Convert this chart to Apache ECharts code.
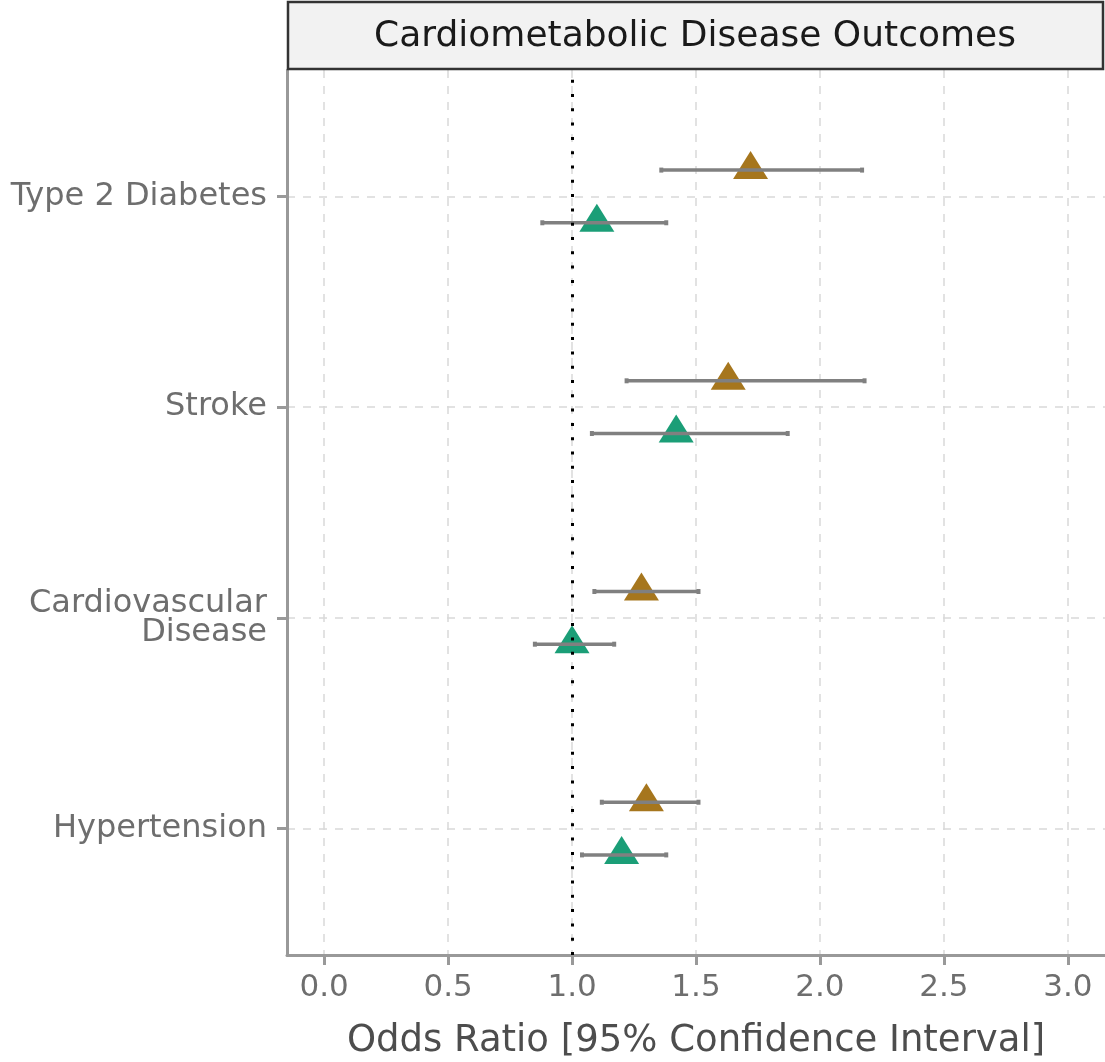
<!DOCTYPE html>
<html>
<head>
<meta charset="utf-8">
<script src="https://cdn.jsdelivr.net/npm/echarts@6/dist/echarts.min.js"></script>
<style>
html,body{margin:0;padding:0;background:#fff;}
#chart{width:1105px;height:1062px;}
</style>
</head>
<body>
<div id="chart"></div>
<script>
// Categories from bottom (y = 1) to top (y = 4)
const categories = ['Hypertension', 'Cardiovascular\nDisease', 'Stroke', 'Type 2 Diabetes'];
// Brown group (upper dodge)
const brownOR = [1.30, 1.28, 1.63, 1.72];
const brownLo = [1.12, 1.09, 1.22, 1.36];
const brownHi = [1.51, 1.51, 2.18, 2.17];
// Green group (lower dodge)
const greenOR = [1.20, 1.00, 1.42, 1.10];
const greenLo = [1.04, 0.85, 1.08, 0.88];
const greenHi = [1.38, 1.17, 1.87, 1.38];
// Axis ticks
const xTicks = [0, 0.5, 1.0, 1.5, 2.0, 2.5, 3.0];
const yTicks = [1, 2, 3, 4];
const refLine = 1.0;
const stripTitle = 'Cardiometabolic Disease Outcomes';
const xTitle = 'Odds Ratio [95% Confidence Interval]';

const dodge = 0.125;
const brownColor = '#A6761D';
const greenColor = '#1B9E77';
const font = 'DejaVu Sans';

const brownPts = brownOR.map((v, i) => [v, yTicks[i] + dodge]);
const greenPts = greenOR.map((v, i) => [v, yTicks[i] - dodge]);
const errData = [];
brownOR.forEach((v, i) => errData.push([brownLo[i], brownHi[i], yTicks[i] + dodge]));
greenOR.forEach((v, i) => errData.push([greenLo[i], greenHi[i], yTicks[i] - dodge]));

const chart = echarts.init(document.getElementById('chart'), null, {renderer: 'canvas'});

const option = {
  animation: false,
  backgroundColor: '#ffffff',
  grid: {left: 287, right: 0, top: 70, bottom: 107, containLabel: false, outerBoundsMode: 'none'},
  xAxis: {
    type: 'value', min: -0.15, max: 3.15,
    axisLine: {show: true, onZero: false, lineStyle: {color: '#999999', width: 3}},
    axisTick: {show: true, length: 10, customValues: xTicks, lineStyle: {color: '#999999', width: 3}},
    axisLabel: {customValues: xTicks, formatter: v => Number(v).toFixed(1), color: '#6E6E6E',
      fontFamily: font, fontSize: 31, margin: 17},
    splitLine: {show: true, lineStyle: {color: '#D9D9D9', type: [8, 8], width: 1.5}},
    name: xTitle, nameLocation: 'middle', nameGap: 68,
    nameTextStyle: {color: '#4D4D4D', fontFamily: font, fontSize: 37}
  },
  yAxis: {
    type: 'value', min: 0.4, max: 4.6,
    axisLine: {show: true, onZero: false, lineStyle: {color: '#999999', width: 3}},
    axisTick: {show: true, length: 10, customValues: yTicks, lineStyle: {color: '#999999', width: 3}},
    axisLabel: {customValues: yTicks, formatter: v => categories[Math.round(v) - 1] || '',
      color: '#6E6E6E', fontFamily: font, fontSize: 32, margin: 20, lineHeight: 29, align: 'right'},
    splitLine: {show: true, lineStyle: {color: '#D9D9D9', type: [8, 8], width: 1.5}}
  },
  graphic: [
    {type: 'rect', shape: {x: 288, y: 2, width: 815, height: 67},
     style: {fill: '#F2F2F2', stroke: '#333333', lineWidth: 2.5}, z: 10},
    {type: 'text', x: 695, y: 37,
     style: {text: stripTitle, fill: '#1A1A1A', font: '36px "DejaVu Sans"', align: 'center', verticalAlign: 'middle'}, z: 11}
  ],
  series: [
    {
      type: 'scatter', name: 'brown', data: brownPts, z: 2,
      symbol: 'triangle', symbolSize: [35, 28], symbolOffset: [0, -5],
      itemStyle: {color: brownColor, opacity: 1}
    },
    {
      type: 'scatter', name: 'green', data: greenPts, z: 2,
      symbol: 'triangle', symbolSize: [35, 28], symbolOffset: [0, -5],
      itemStyle: {color: greenColor, opacity: 1}
    },
    {
      type: 'custom', name: 'ci', data: errData, z: 3,
      encode: {x: [0, 1], y: 2},
      renderItem: function (params, api) {
        const y = api.value(2);
        const p1 = api.coord([api.value(0), y]);
        const p2 = api.coord([api.value(1), y]);
        const st = {stroke: '#808080', lineWidth: 3.5};
        return {
          type: 'group',
          children: [
            {type: 'line', shape: {x1: p1[0], y1: p1[1], x2: p2[0], y2: p2[1]}, style: st},
            {type: 'line', shape: {x1: p1[0], y1: p1[1] - 2.5, x2: p1[0], y2: p1[1] + 2.5}, style: {stroke: '#808080', lineWidth: 4}},
            {type: 'line', shape: {x1: p2[0], y1: p2[1] - 2.5, x2: p2[0], y2: p2[1] + 2.5}, style: {stroke: '#808080', lineWidth: 4}}
          ]
        };
      }
    },
    {
      type: 'line', name: 'ref', data: [], z: 4,
      markLine: {
        silent: true, symbol: ['none', 'none'], label: {show: false},
        lineStyle: {color: '#000000', type: [3, 11.3], width: 3},
        data: [{xAxis: refLine}]
      }
    }
  ]
};
chart.setOption(option);
</script>
</body>
</html>
